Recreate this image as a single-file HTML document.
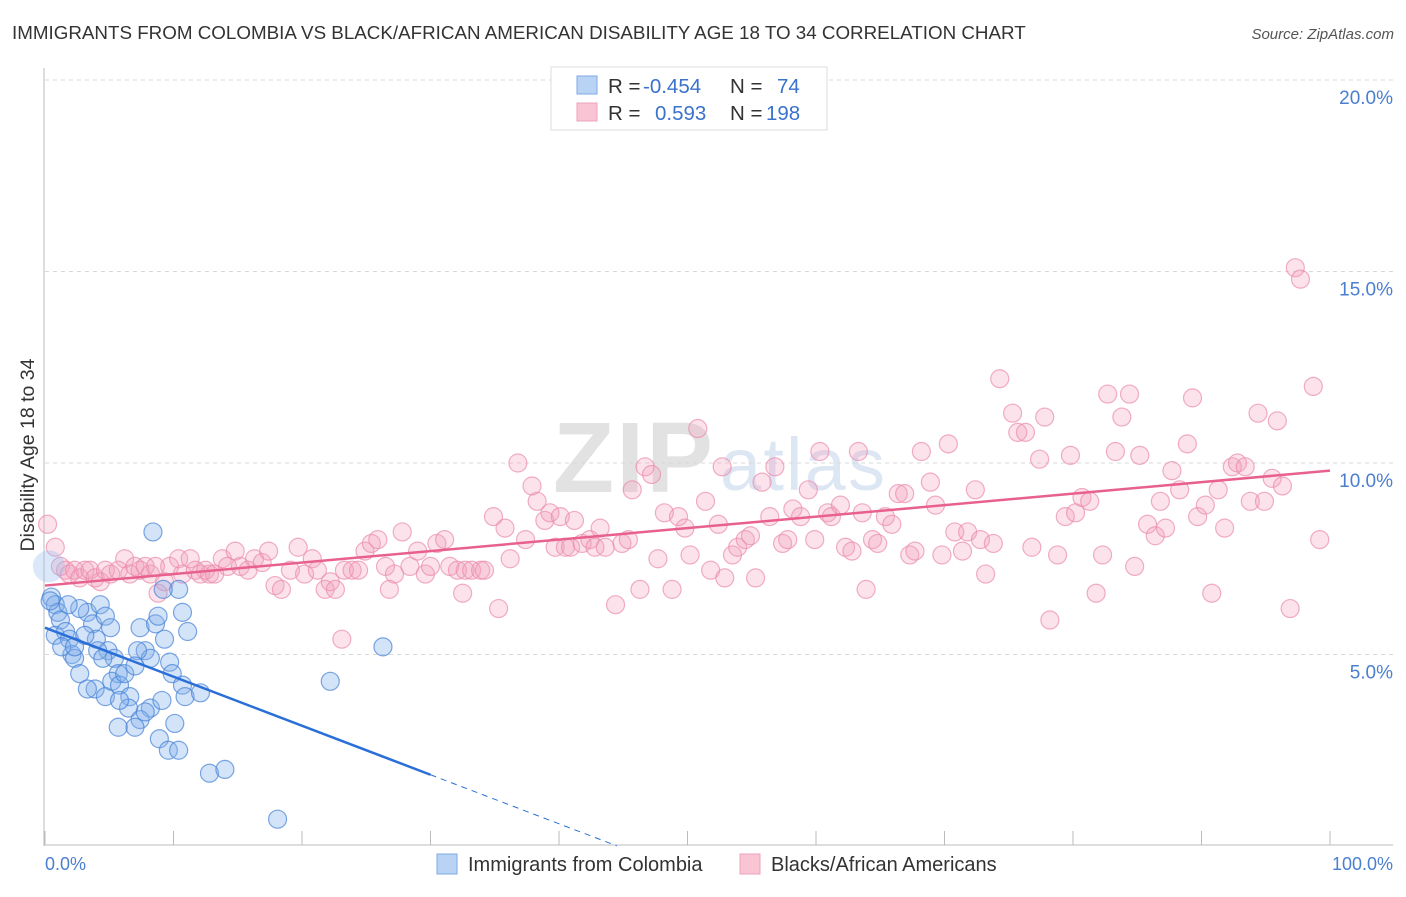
<!DOCTYPE html>
<html><head><meta charset="utf-8"><style>
body{margin:0;background:#fff;font-family:"Liberation Sans",sans-serif;}
svg text{font-family:"Liberation Sans",sans-serif;}
</style></head><body>
<svg id="chart" width="1406" height="892" xmlns="http://www.w3.org/2000/svg">
<text x="12" y="39" font-size="18.8" fill="#333">IMMIGRANTS FROM COLOMBIA VS BLACK/AFRICAN AMERICAN DISABILITY AGE 18 TO 34 CORRELATION CHART</text>
<text x="1394" y="39" font-size="15" fill="#555" font-style="italic" text-anchor="end">Source: ZipAtlas.com</text>
<text x="553" y="492" font-size="100" fill="#e2e2e2" font-family="Liberation Serif" font-weight="bold" textLength="160">ZIP</text>
<text x="720" y="490" font-size="74" fill="#dde7f4" textLength="165">atlas</text>
<g id="grid"></g>
<g id="axes"></g>
<g id="pts"></g>
<g id="trend"></g>
<text transform="translate(34,455) rotate(-90)" font-size="19.5" fill="#333" text-anchor="middle">Disability Age 18 to 34</text>
<text x="45" y="870" font-size="18" fill="#4a7fd0">0.0%</text>
<text x="1393" y="870" font-size="18" fill="#4a7fd0" text-anchor="end">100.0%</text>
<g>
<rect x="551" y="67" width="276" height="63" fill="#fff" stroke="#ddd"/>
<rect x="577" y="76" width="20" height="18" fill="#b9d3f5" stroke="#7ea8e6"/>
<rect x="577" y="103" width="20" height="18" fill="#f9c4d4" stroke="#eea3bb"/>
<text x="608" y="93" font-size="20.5" fill="#333">R =</text>
<text x="643" y="93" font-size="20.5" fill="#3a72cc">-0.454</text>
<text x="730" y="93" font-size="20.5" fill="#333">N =</text>
<text x="777" y="93" font-size="20.5" fill="#3a72cc">74</text>
<text x="608" y="120" font-size="20.5" fill="#333">R =</text>
<text x="655" y="120" font-size="20.5" fill="#3a72cc">0.593</text>
<text x="730" y="120" font-size="20.5" fill="#333">N =</text>
<text x="766" y="120" font-size="20.5" fill="#3a72cc">198</text>
</g>
<g>
<rect x="437" y="854" width="20" height="20" fill="#b9d3f5" stroke="#7ea8e6"/>
<text x="468" y="871" font-size="20" fill="#333">Immigrants from Colombia</text>
<rect x="740" y="854" width="20" height="20" fill="#f9c4d4" stroke="#eea3bb"/>
<text x="771" y="871" font-size="20" fill="#333">Blacks/African Americans</text>
</g>
</svg>
<script>
const yTicks=[5,10,15,20];
const xTickVals=[0,10,20,30,40,50,60,70,80,90,100];
const blueX=[0.5,0.8,1.0,1.2,0.8,1.6,1.9,2.1,2.3,2.7,1.3,3.3,3.7,4.3,4.0,4.7,5.1,4.9,5.4,5.7,3.9,4.7,5.2,5.8,6.2,6.6,6.5,7.4,7.8,8.2,8.6,8.8,9.3,9.7,9.9,10.7,11.1,10.7,10.9,12.1,10.1,8.2,7.4,7.0,5.7,8.9,9.6,10.4,12.8,14.0,18.1,26.3,22.2,8.4,10.4,9.2,2.7,1.8,3.1,4.1,4.5,3.3,9.1,7.8,5.8,7.2,2.3,7.0,0.4];
const blueY=[6.5,6.3,6.1,5.9,5.5,5.6,5.4,5.0,4.9,4.5,5.2,6.1,5.8,6.3,5.4,6.0,5.7,5.1,4.9,4.5,4.1,3.9,4.3,4.2,4.5,3.9,3.6,5.7,5.1,4.9,5.8,6.0,5.4,4.8,4.5,6.1,5.6,4.2,3.9,4.0,3.2,3.6,3.3,3.1,3.1,2.8,2.5,2.5,1.9,2.0,0.7,5.2,4.3,8.2,6.7,6.7,6.2,6.3,5.5,5.1,4.9,4.1,3.8,3.5,3.8,5.1,5.2,4.7,6.4];
const pinkX=[0.2,0.8,1.2,1.6,1.9,2.3,2.7,3.1,3.5,3.9,4.3,4.7,5.1,5.7,6.2,6.6,7.0,7.4,7.8,8.2,8.6,8.8,9.3,9.7,10.4,10.7,11.3,11.7,12.1,12.5,12.8,13.2,13.8,14.2,14.8,15.2,15.8,16.3,16.9,17.4,17.9,18.4,19.1,19.7,20.2,20.8,21.2,21.8,22.2,22.6,23.1,23.3,23.9,24.4,24.9,25.4,25.9,26.5,26.8,27.2,27.8,28.4,29.0,29.6,30.0,30.5,31.1,31.5,32.1,32.5,32.7,33.2,33.9,34.2,34.9,35.3,35.8,36.2,36.8,37.4,37.9,38.3,38.9,39.3,39.7,40.1,40.5,40.9,41.2,41.8,42.4,42.8,43.2,43.6,44.4,44.9,45.4,45.7,46.3,46.7,47.2,47.7,48.2,48.8,49.3,49.8,50.2,50.8,51.4,51.8,52.4,52.7,52.9,53.5,53.9,54.5,54.9,55.3,55.8,56.4,56.8,57.4,57.8,58.2,58.8,59.4,59.9,60.3,60.9,61.2,61.9,62.3,62.8,63.3,63.6,63.9,64.4,64.8,65.4,65.9,66.4,66.9,67.3,67.7,68.2,68.9,69.3,69.8,70.3,70.8,71.4,71.8,72.4,72.8,73.2,73.8,74.3,75.3,75.7,76.3,76.8,77.4,77.8,78.2,78.8,79.4,79.8,80.2,80.7,81.3,81.8,82.3,82.7,83.3,83.8,84.4,84.8,85.2,85.8,86.4,86.8,87.2,87.7,88.3,88.9,89.3,89.7,90.3,90.8,91.3,91.8,92.4,92.8,93.4,93.8,94.4,94.9,95.5,95.9,96.3,96.9,97.3,97.7,98.7,99.2];
const pinkY=[8.4,7.8,7.3,7.2,7.1,7.2,7.0,7.2,7.2,7.0,6.9,7.2,7.1,7.2,7.5,7.1,7.3,7.2,7.3,7.1,7.3,6.6,6.9,7.3,7.5,7.1,7.5,7.2,7.1,7.2,7.1,7.1,7.5,7.3,7.7,7.3,7.2,7.5,7.4,7.7,6.8,6.7,7.2,7.8,7.1,7.5,7.2,6.7,6.9,6.7,5.4,7.2,7.2,7.2,7.7,7.9,8.0,7.3,6.7,7.1,8.2,7.3,7.7,7.1,7.3,7.9,8.0,7.3,7.2,6.6,7.2,7.2,7.2,7.2,8.6,6.2,8.3,7.5,10.0,8.0,9.4,9.0,8.5,8.7,7.8,8.6,7.8,7.8,8.5,7.9,8.0,7.8,8.3,7.8,6.3,7.9,8.0,9.3,6.7,9.9,9.7,7.5,8.7,6.7,8.6,8.3,7.6,10.9,9.0,7.2,8.4,9.9,7.0,7.6,7.8,8.0,8.1,7.0,9.5,8.6,9.9,7.9,8.0,8.8,8.6,9.3,8.0,10.3,8.7,8.6,8.9,7.8,7.7,10.3,8.7,6.7,8.0,7.9,8.6,8.4,9.2,9.2,7.6,7.7,10.3,9.5,8.9,7.6,10.5,8.2,7.7,8.2,9.3,8.0,7.1,7.9,12.2,11.3,10.8,10.8,7.8,10.1,11.2,5.9,7.6,8.6,10.2,8.7,9.1,9.0,6.6,7.6,11.8,10.3,11.2,11.8,7.3,10.2,8.4,8.1,9.0,8.3,9.8,9.3,10.5,11.7,8.6,8.9,6.6,9.3,8.3,9.9,10.0,9.9,9.0,11.3,9.0,9.6,11.1,9.4,6.2,15.1,14.8,12.0,8.0];
const pinkTrend=[6.8,9.8];
const blueTrend=[5.7,-0.128];
const blueSolidEnd=30, blueDashEnd=44.5;

const NS="http://www.w3.org/2000/svg";
const X0=45,X1=1330,Y0=846,PXPERY=38.3;
const sx=v=>X0+v*(X1-X0)/100;
const sy=v=>Y0-v*PXPERY;
function mk(tag,attrs,parent){const e=document.createElementNS(NS,tag);for(const k in attrs)e.setAttribute(k,attrs[k]);parent.appendChild(e);return e;}
const grid=document.getElementById('grid'),axes=document.getElementById('axes'),pts=document.getElementById('pts'),trend=document.getElementById('trend');
yTicks.forEach(t=>{
  const l=mk('line',{x1:45,x2:1393,y1:sy(t),y2:sy(t),stroke:'#d8d8d8','stroke-dasharray':'4,4'},grid);
  
  
  const tx=mk('text',{x:1393,y:sy(t)+24,'font-size':19,fill:'#4a7fd0','text-anchor':'end'},grid);
  tx.textContent=t.toFixed(1)+'%';
  
  
});
const ax=mk('line',{x1:44,x2:44,y1:68,y2:846,stroke:'#bbb'},axes);


const bx=mk('line',{x1:44,x2:1393,y1:845,y2:845,stroke:'#bbb'},axes);


xTickVals.forEach(t=>{
  const l=mk('line',{x1:sx(t),x2:sx(t),y1:831,y2:845,stroke:'#bbb'},axes);
  
  
});
pinkX.forEach((x,i)=>{
  const c=mk('circle',{cx:sx(x),cy:sy(pinkY[i]),r:9,fill:'rgba(243,160,188,0.3)',stroke:'rgba(235,140,172,0.7)','stroke-width':1.2},pts);
  
  
});
blueX.forEach((x,i)=>{
  const c=mk('circle',{cx:sx(x),cy:sy(blueY[i]),r:9,fill:'rgba(130,175,235,0.35)',stroke:'rgba(70,130,215,0.7)','stroke-width':1.2},pts);
  
  
});
const big=mk('circle',{cx:sx(0.3),cy:sy(7.3),r:16,fill:'rgba(150,190,240,0.35)',stroke:'none'},pts);


const pl=mk('line',{x1:sx(0),y1:sy(pinkTrend[0]),x2:sx(100),y2:sy(pinkTrend[1]),stroke:'#e8608e','stroke-width':2.5},trend);


const by=v=>blueTrend[0]+blueTrend[1]*v;
const bl=mk('line',{x1:sx(0),y1:sy(by(0)),x2:sx(blueSolidEnd),y2:sy(by(blueSolidEnd)),stroke:'#2a6fd8','stroke-width':2.5},trend);


const bd=mk('line',{x1:sx(blueSolidEnd),y1:sy(by(blueSolidEnd)),x2:sx(blueDashEnd),y2:sy(Math.max(by(blueDashEnd),0)),stroke:'#2a6fd8','stroke-width':1,'stroke-dasharray':'6,5'},trend);


</script>
</body></html>
